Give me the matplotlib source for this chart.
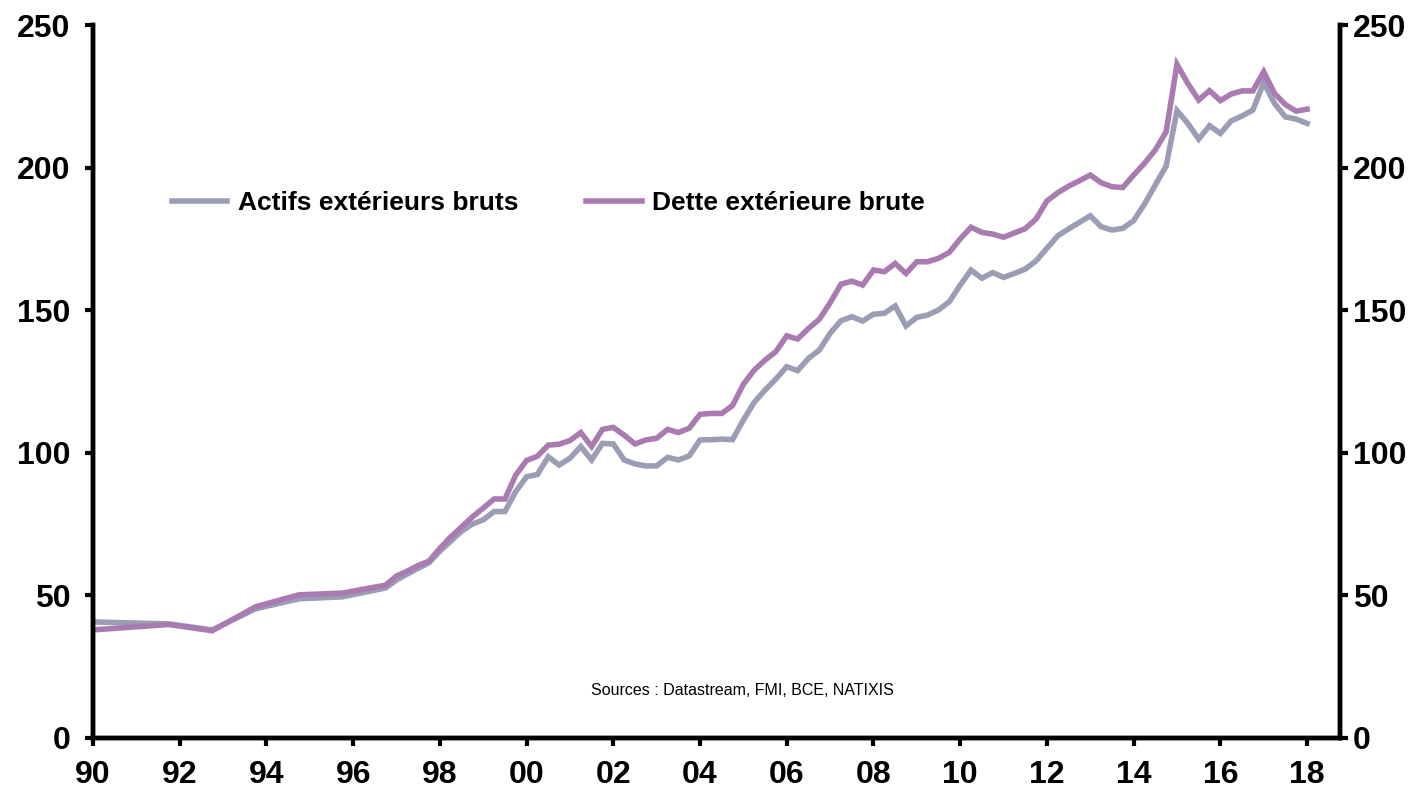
import numpy as np
import matplotlib
matplotlib.use("Agg")
import matplotlib.pyplot as plt

plt.rcParams['font.family'] = ['Liberation Sans', 'DejaVu Sans']

# dates: sparse annual points first, then quarterly from 1997
annees_debut = [1990.0, 1991.75, 1992.75, 1993.75, 1994.75, 1995.75, 1996.75]
trimestres = list(np.arange(1997.0, 2018.01, 0.25))
dates = annees_debut + trimestres

actifs = [40.7, 40.0, 37.9, 45.3, 48.8, 49.5, 52.6,
          55.4, 57.5, 59.5, 61.5,
          65.5, 69.0, 72.5, 75.0,
          76.5, 79.4, 79.4, 86.4,
          91.6, 92.4, 98.6, 95.7,
          98.1, 102.2, 97.5, 103.3,
          103.1, 97.5, 96.1, 95.4,
          95.4, 98.4, 97.5, 98.9,
          104.5, 104.6, 104.8, 104.6,
          111.5, 117.7, 122.0, 125.9,
          130.2, 128.8, 133.1, 136.0,
          141.9, 146.3, 147.7, 146.2,
          148.6, 148.9, 151.5, 144.5,
          147.5, 148.3, 150.1, 153.0,
          158.8, 164.1, 161.2, 163.2,
          161.5, 162.9, 164.4, 167.3,
          171.7, 176.1, 178.5, 180.8,
          183.1, 179.3, 178.1, 178.7,
          181.4, 187.2, 193.9, 200.6,
          220.0, 215.5, 210.0, 214.7,
          212.0, 216.4, 218.1, 220.2,
          229.8, 222.5, 217.8, 217.0,
          215.5]

dette = [37.9, 39.8, 37.6, 46.0, 50.2, 50.8, 53.6,
         56.8, 58.5, 60.5, 62.0,
         66.5, 70.5, 74.0, 77.5,
         80.6, 83.8, 83.8, 92.2,
         97.3, 98.8, 102.7, 103.0,
         104.3, 107.1, 102.2, 108.2,
         108.9, 106.2, 103.1, 104.5,
         105.1, 108.2, 107.1, 108.6,
         113.5, 113.8, 113.8, 116.6,
         124.0, 129.0, 132.5, 135.5,
         141.0, 139.9, 143.6, 146.8,
         152.6, 159.1, 160.2, 158.8,
         164.1, 163.5, 166.4, 162.9,
         167.0, 167.0, 168.2, 170.3,
         175.0, 179.1, 177.3, 176.7,
         175.6, 177.1, 178.6, 182.0,
         188.3, 191.2, 193.5, 195.4,
         197.4, 194.7, 193.3, 193.0,
         197.4, 201.5, 206.2, 212.6,
         236.2, 229.5, 223.7, 227.0,
         223.5, 225.8, 226.9, 226.9,
         233.6, 226.0, 222.1, 219.8,
         220.5]

ticks_x = list(range(1990, 2019, 2))
labels_x = ['%02d' % (a % 100) for a in ticks_x]
ticks_y = [0, 50, 100, 150, 200, 250]

fig = plt.figure(figsize=(14.28, 7.92), dpi=100)
ax = fig.add_axes([0.0651, 0.0682, 0.8733, 0.9002])

ax.plot(dates, actifs, color='#9B9DB5', linewidth=4, solid_joinstyle='miter',
        label='Actifs extérieurs bruts')
ax.plot(dates, dette, color='#A97BB1', linewidth=4, solid_joinstyle='miter',
        label='Dette extérieure brute')

ax.set_xlim(1990, 2018.76)
ax.set_ylim(0, 250)
ax.set_xticks(ticks_x)
ax.set_xticklabels(labels_x, fontweight='bold')
ax.set_yticks(ticks_y)
ax.set_yticklabels([str(v) for v in ticks_y], fontweight='bold')

# right-hand axis, same scale
ax2 = ax.twinx()
ax2.set_ylim(0, 250)
ax2.set_yticks(ticks_y)
ax2.set_yticklabels([str(v) for v in ticks_y], fontweight='bold')

for a in (ax, ax2):
    for s in ['left', 'bottom', 'right']:
        a.spines[s].set_linewidth(3.2)
    a.spines['top'].set_visible(False)

ax.tick_params(axis='y', direction='out', length=6, width=3, labelsize=23, pad=10)
ax2.tick_params(axis='y', direction='out', length=6, width=3, labelsize=23, pad=3)
ax.tick_params(axis='x', direction='out', length=6, width=3, labelsize=23, pad=10)

ax.legend(loc='center left', bbox_to_anchor=(0.063, 0.75), ncol=2, frameon=False,
          prop={'weight': 'bold', 'size': 19}, handlelength=2.12, handletextpad=0.38,
          columnspacing=2.58, borderpad=0, borderaxespad=0)

ax.text(0.521, 0.067, 'Sources : Datastream, FMI, BCE, NATIXIS', transform=ax.transAxes,
        ha='center', va='center', fontsize=11.5)

fig.savefig('out.png', dpi=100)
